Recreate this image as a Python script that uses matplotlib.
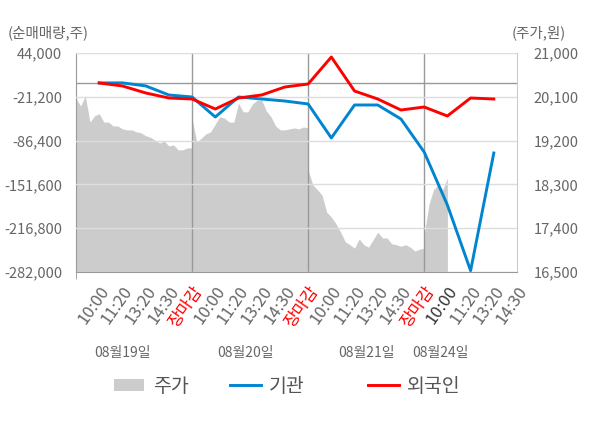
import numpy as np
import matplotlib.pyplot as plt
from matplotlib.patches import Patch
from matplotlib.lines import Line2D

plt.rcParams['font.family'] = ['Noto Sans CJK KR', 'DejaVu Sans']

# x tick labels (one slot each), day labels
tick_labels = ['10:00', '11:20', '13:20', '14:30', '장마감'] * 3 + ['10:00', '11:20', '13:20', '14:30']
day_labels = ['08월19일', '08월20일', '08월21일', '08월24일']

# net buying volume (shares) at slots 1..18
inst = [-600, -500, -5000, -18500, -21500, -51300, -21500, -24500, -27500, -31900,
        -82500, -33400, -33400, -54300, -103400, -182300, -280000, -104900]
foreign = [-600, -5100, -15500, -23000, -24500, -39400, -23000, -18500, -6600, -2200,
           38000, -12600, -24500, -40900, -36400, -49800, -23000, -24500]

# intraday price (won), sampled every 0.2 slot
price_d1 = [20070, 19910, 20120, 19580, 19710, 19750, 19580, 19580, 19500, 19500,
            19440, 19420, 19420, 19380, 19360, 19300, 19270, 19210, 19150, 19190,
            19090, 19110, 19010, 19010, 19050, 19050]
price_d2 = [19660, 19170, 19250, 19340, 19380, 19540, 19690, 19660, 19580, 19580,
            19970, 19790, 19790, 19950, 20030, 20030, 19810, 19690, 19500, 19420,
            19420, 19440, 19460, 19440, 19480, 19460]
price_d3 = [18600, 18290, 18190, 18080, 17730, 17630, 17490, 17320, 17120, 17060,
            16990, 17180, 17060, 17010, 17160, 17320, 17200, 17200, 17080, 17060,
            17030, 17060, 17010, 16930, 16970, 16990]
price_d4 = [17260, 17880, 18190, 18290, 18190, 18430]

vol_ticks = np.linspace(-282000, 44000, 6)
price_ticks = np.linspace(16500, 21000, 6)

fig = plt.figure(figsize=(6, 4.28), dpi=100)
ax = fig.add_axes([0.1267, 0.3645, 0.735, 0.5117])
ax2 = ax.twinx()
ax.set_zorder(2)
ax2.set_zorder(1)
ax.patch.set_visible(False)
ax2.patch.set_facecolor('#f4f4f4')

# price area
for d, p in enumerate([price_d1, price_d2, price_d3, price_d4]):
    px = d * 5 + np.arange(len(p)) * 0.2
    ax2.fill_between(px, p, 16500, color='#cccccc', lw=0)
ax2.set_ylim(16500, 21000)
ax2.set_yticks(price_ticks)
ax2.set_yticklabels([f'{v:,.0f}' for v in price_ticks])
ax2.tick_params(axis='y', length=0, pad=12, labelsize=10.5, labelcolor='#666666')
for s in ax2.spines.values():
    s.set_visible(False)

# grid, separators, zero line
ax.set_ylim(-282000, 44000)
ax.set_xlim(0, 19)
ax.grid(axis='y', color='#dddddd', lw=1)
ax.set_axisbelow(False)
for xs in [5, 10, 15]:
    ax.axvline(xs, color='#999999', lw=1, zorder=1)
ax.axhline(0, color='#999999', lw=1, zorder=1)

slots = np.arange(1, len(inst) + 1)
ax.plot(slots, inst, color='#0085d0', lw=2.1, zorder=3)
ax.plot(slots, foreign, color='#ff0000', lw=2.1, zorder=4)

ax.set_yticks(vol_ticks)
ax.set_yticklabels([f'{v:,.0f}' for v in vol_ticks])
ax.tick_params(axis='y', length=0, pad=10, labelsize=10.5, labelcolor='#666666')

ax.set_xticks(np.arange(1, len(tick_labels) + 1))
ax.set_xticklabels(tick_labels, rotation=55, ha='right', va='top', rotation_mode='anchor')
ax.set_xticks([0, 5, 10, 15, 19], minor=True)
ax.tick_params(axis='x', which='major', length=0, pad=8, labelsize=12, labelcolor='#666666')
ax.tick_params(axis='x', which='minor', length=5, color='#999999')
for i, lab in enumerate(ax.get_xticklabels()):
    if tick_labels[i] == '장마감':
        lab.set_color('#ff0000')
    elif i == 15:
        lab.set_color('#333333')

ax.spines['top'].set_visible(False)
ax.spines['left'].set_color('#999999')
ax.spines['bottom'].set_color('#999999')
ax.spines['right'].set_color('#cccccc')

# day labels
for xd, lab in zip([2.0, 7.3, 12.5, 15.7], day_labels):
    ax.text(xd, -0.37, lab, transform=ax.get_xaxis_transform(), ha='center', va='center',
            fontsize=10, color='#666666')

fig.text(0.013, 0.923, '(순매매량,주)', fontsize=10.5, color='#666666', va='center')
fig.text(0.943, 0.923, '(주가,원)', fontsize=10.5, color='#666666', va='center', ha='right')

# legend: one entry per block, like the reference
entries = [
    (Patch(facecolor='#cccccc', edgecolor='none'), '주가', 0.19),
    (Line2D([], [], color='#0085d0', lw=2.1), '기관', 0.384),
    (Line2D([], [], color='#ff0000', lw=2.1), '외국인', 0.614),
]
for h, lab, xl in entries:
    fig.legend([h], [lab], loc='center left', bbox_to_anchor=(xl, 0.098), frameon=False,
               fontsize=14, handlelength=1.55, handleheight=0.6, handletextpad=0.45,
               borderpad=0, borderaxespad=0, labelcolor='#555555')

fig.savefig('out.png', dpi=100)
